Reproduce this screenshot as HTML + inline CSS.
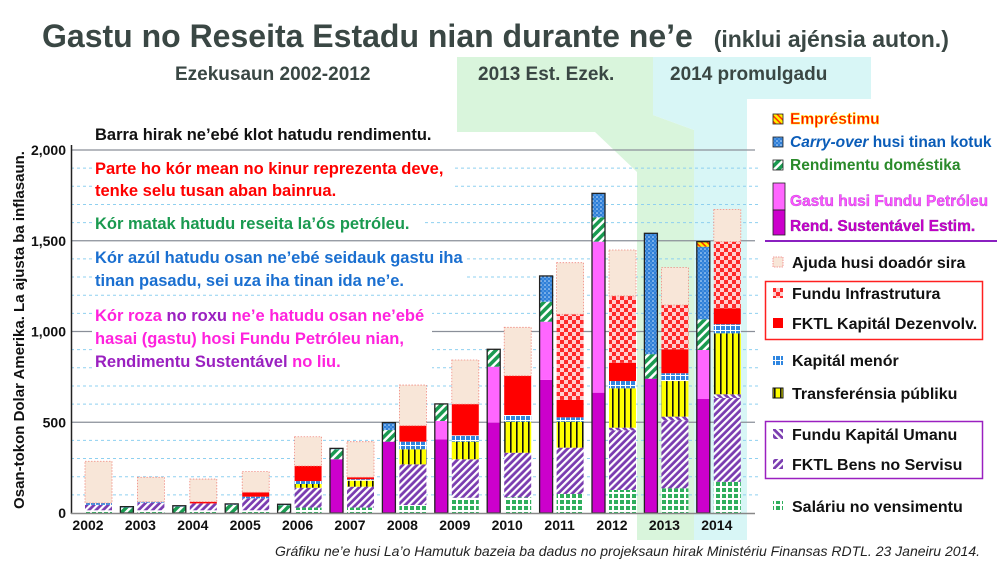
<!DOCTYPE html>
<html><head><meta charset="utf-8"><style>
body{margin:0;background:#fff;}
svg{display:block;font-family:"Liberation Sans",sans-serif;}
</style></head><body>
<svg id="chart" width="1000" height="568" viewBox="0 0 1000 568">
<defs>
<pattern id="pDom" width="6" height="6" patternUnits="userSpaceOnUse" patternTransform="rotate(45)"><rect width="6" height="6" fill="#1a9a50"/><rect width="2.5" height="6" fill="#fff"/></pattern>
<pattern id="pCarry" width="4" height="4" patternUnits="userSpaceOnUse"><rect width="4" height="4" fill="#2f7fd8"/><circle cx="1" cy="1" r="0.8" fill="#cfe6ff"/><circle cx="3" cy="3" r="0.6" fill="#9cc8f5"/></pattern>
<pattern id="pLoan" width="4" height="4" patternUnits="userSpaceOnUse" patternTransform="rotate(-45)"><rect width="4" height="4" fill="#ffee00"/><rect width="1.5" height="4" fill="#ff3300"/></pattern>
<pattern id="pYel" width="6" height="6" patternUnits="userSpaceOnUse"><rect width="6" height="6" fill="#ffff00"/><rect width="1.6" height="6" fill="#111"/></pattern>
<pattern id="pKapm" width="5" height="5" patternUnits="userSpaceOnUse"><rect width="5" height="5" fill="#2f86e0"/><rect width="5" height="1" fill="#fff"/><rect width="1" height="5" fill="#fff"/></pattern>
<pattern id="pChk" width="8" height="8" patternUnits="userSpaceOnUse"><rect width="8" height="8" fill="#ff2a2a"/><rect width="4" height="4" fill="#ffd0d0"/><rect x="4" y="4" width="4" height="4" fill="#ffd0d0"/></pattern>
<pattern id="pBens" width="5" height="5" patternUnits="userSpaceOnUse" patternTransform="rotate(45)"><rect width="5" height="5" fill="#7a3cb0"/><rect width="2.2" height="5" fill="#fff"/></pattern>
<pattern id="pUman" width="5" height="5" patternUnits="userSpaceOnUse" patternTransform="rotate(-45)"><rect width="5" height="5" fill="#7a3cb0"/><rect width="2.2" height="5" fill="#fff"/></pattern>
<pattern id="pSal" width="6" height="6" patternUnits="userSpaceOnUse"><rect width="6" height="6" fill="#2fae5c"/><rect width="6" height="2" fill="#fff"/><rect width="2" height="6" fill="#fff"/></pattern>
</defs>

<!-- shaded forecast regions -->
<rect x="457" y="57" width="196" height="75" fill="#d9f5dc"/>
<polygon fill="#d9f5dc" points="595,132 653,132 653,115 694,130 694,172 637,172"/>
<rect x="637" y="132" width="57" height="408" fill="#d9f5dc"/>
<rect x="653" y="57" width="218" height="42" fill="#d8f6f6"/>
<rect x="694" y="99" width="53" height="441" fill="#d8f6f6"/>
<polygon fill="#d8f6f6" points="653,99 694,99 694,130 653,115"/>

<text x="42" y="47" font-size="32" font-weight="bold" fill="#3a4744">Gastu no Reseita Estadu nian durante ne’e <tspan font-size="23" dx="12">(inklui ajénsia auton.)</tspan></text>
<text x="175" y="80" font-size="19" font-weight="bold" fill="#3a4744">Ezekusaun 2002-2012</text>
<text x="478" y="80" font-size="19" font-weight="bold" fill="#3a4744">2013 Est. Ezek.</text>
<text x="670" y="80" font-size="19" font-weight="bold" fill="#3a4744">2014 promulgadu</text>

<g id="grid"></g>
<g id="notes" font-size="16.5" font-weight="bold">
<text x="95" y="140" fill="#111">Barra hirak ne’ebé klot hatudu rendimentu.</text>
<rect x="92" y="157" width="360" height="40" fill="#fff"/>
<text x="95" y="174" fill="#ff0000">Parte ho kór mean no kinur reprezenta deve,</text>
<text x="95" y="196" fill="#ff0000">tenke selu tusan aban bainrua.</text>
<rect x="92" y="214" width="330" height="18" fill="#fff"/>
<text x="95" y="229" fill="#1a9a50">Kór matak hatudu reseita la’ós petróleu.</text>
<rect x="92" y="247" width="375" height="42" fill="#fff"/>
<text x="95" y="263" fill="#1a6fd0">Kór azúl hatudu osan ne’ebé seidauk gastu iha</text>
<text x="95" y="286" fill="#1a6fd0">tinan pasadu, sei uza iha tinan ida ne’e.</text>
<rect x="92" y="305" width="340" height="64" fill="#fff"/>
<text x="95" y="321" fill="#ff22dd">Kór roza <tspan fill="#9a20c0">no roxu</tspan> ne’e hatudu osan ne’ebé</text>
<text x="95" y="344" fill="#ff22dd">hasai (gastu) hosi Fundu Petróleu nian,</text>
<text x="95" y="367" fill="#9a20c0">Rendimentu Sustentável <tspan fill="#ff22dd">no liu.</tspan></text>
</g>
<g id="bars"></g>
<line x1="71.5" y1="145" x2="71.5" y2="514" stroke="#222" stroke-width="1.5"/>
<line x1="71" y1="513.5" x2="755" y2="513.5" stroke="#888" stroke-width="1.5"/>
<g id="ylabels" font-size="14" font-weight="bold" fill="#111" text-anchor="end"></g>
<g id="xlabels" font-size="14" font-weight="bold" fill="#111" text-anchor="middle"></g>
<text transform="translate(24,330) rotate(-90)" text-anchor="middle" font-size="15" font-weight="bold" fill="#111">Osan-tokon Dolar Amerika.   La ajusta ba inflasaun.</text>

<!-- legends -->
<g id="legend" font-size="15.5" font-weight="bold">
<rect x="773" y="114" width="10" height="10" fill="url(#pLoan)" stroke="#222" stroke-width="0.8"/>
<text x="790" y="124" fill="#ff1100" stroke="#ffee00" stroke-width="0.4">Empréstimu</text>
<rect x="773" y="137" width="10" height="10" fill="url(#pCarry)" stroke="#222" stroke-width="0.8"/>
<text x="790" y="147" fill="#0a5cb8"><tspan font-style="italic">Carry-over</tspan> husi tinan kotuk</text>
<rect x="773" y="160" width="10" height="10" fill="url(#pDom)" stroke="#222" stroke-width="0.8"/>
<text x="790" y="170" fill="#2a8a2a">Rendimentu doméstika</text>
<rect x="773" y="183" width="12" height="27" fill="#ff66ff" stroke="#222" stroke-width="0.8"/>
<rect x="773" y="210" width="12" height="25" fill="#cc00cc" stroke="#222" stroke-width="0.8"/>
<text x="790" y="206" fill="#ff55ff" stroke="#9a20c0" stroke-width="0.3">Gastu husi Fundu Petróleu</text>
<text x="790" y="231" fill="#cc00cc" stroke="#6a0a8a" stroke-width="0.3">Rend. Sustentável Estim.</text>
<line x1="765" y1="241" x2="997" y2="241" stroke="#8a20c0" stroke-width="2"/>
</g>
<g font-size="16" font-weight="bold">
<rect x="773" y="257" width="10" height="10" fill="#f8e6d8" stroke="#f08080" stroke-width="0.8" stroke-dasharray="1.5 1"/>
<text x="792" y="268" fill="#111">Ajuda husi doadór sira</text>
<rect x="765.5" y="281.5" width="217" height="58" fill="none" stroke="#ff2020" stroke-width="1.5"/>
<rect x="773" y="288" width="10" height="10" fill="url(#pChk)"/>
<text x="792" y="299" fill="#111">Fundu Infrastrutura</text>
<rect x="773" y="318" width="10" height="10" fill="#ff0000"/>
<text x="792" y="329" fill="#111">FKTL Kapitál Dezenvolv.</text>
<rect x="773" y="355" width="10" height="10" fill="url(#pKapm)"/>
<text x="792" y="366" fill="#111">Kapitál menór</text>
<rect x="773" y="388" width="10" height="10" fill="url(#pYel)" stroke="#111" stroke-width="1"/>
<text x="792" y="399" fill="#111">Transferénsia públiku</text>
<rect x="765.5" y="421.5" width="217" height="57" fill="none" stroke="#9a20c0" stroke-width="1.5"/>
<rect x="773" y="429" width="10" height="10" fill="url(#pUman)"/>
<text x="792" y="440" fill="#111">Fundu Kapitál Umanu</text>
<rect x="773" y="459" width="10" height="10" fill="url(#pBens)"/>
<text x="792" y="470" fill="#111">FKTL Bens no Servisu</text>
<rect x="773" y="501" width="10" height="10" fill="url(#pSal)"/>
<text x="792" y="512" fill="#111">Saláriu no vensimentu</text>
</g>
<text x="980" y="556" text-anchor="end" font-size="14" font-style="italic" fill="#222">Gráfiku ne’e husi La’o Hamutuk bazeia ba dadus no projeksaun hirak Ministériu Finansas RDTL. 23 Janeiru 2014.</text>
</svg>
<script>
const years=["2002","2003","2004","2005","2006","2007","2008","2009","2010","2011","2012","2013","2014"];
// revenue series
const sustainable=[0,0,0,0,0,296,393,406,498,733,663,740,628];
const petroFund=[0,0,0,0,0,0,0,101,308,321,832,0,270];
const domestic=[0,30,35,45,43,55,64,94,96,110,134,135,169];
const carryOver=[0,5,5,5,5,5,41,0,0,142,132,666,400];
const loans=[0,0,0,0,0,0,0,0,0,0,0,0,28];
// expenditure series
const salaries=[15,15,15,15,30,30,44,84,86,105,127,136,172];
const goodsServices=[30,42,38,66,109,115,224,212,246,255,328,375,462];
const humanCapital=[0,0,0,0,0,0,0,0,0,0,15,20,20];
const transfers=[0,0,0,0,21,33,83,97,171,143,217,196,336];
const minorCapital=[10,5,0,9,16,8,42,35,37,24,40,43,50];
const fktlCapital=[0,0,9,24,83,11,88,172,216,96,101,132,88];
const infraFund=[0,0,0,0,0,0,0,0,0,472,368,244,367];
const donorAid=[230,135,125,114,161,196,224,243,267,284,253,206,178];
const yTicks=[0,500,1000,1500,2000];
const yTickLabels=["0","500","1,000","1,500","2,000"];

const NS="http://www.w3.org/2000/svg";
const yS=v=>513-v*0.1815;
const xC=i=>88+52.4*i;
function mk(tag,attrs,parent){const e=document.createElementNS(NS,tag);for(const k in attrs)e.setAttribute(k,attrs[k]);parent.appendChild(e);return e;}
const grid=document.getElementById('grid');
for(let v=100;v<=2000;v+=100){
  if(v%500===0){const l=mk('line',{x1:71,x2:755,y1:yS(v),y2:yS(v),stroke:'#8a8f99','stroke-width':1.3},grid);
    
    }
  else{const l=mk('line',{x1:71,x2:760,y1:yS(v),y2:yS(v),stroke:'#8fd0f0','stroke-width':1,'stroke-dasharray':'3 3'},grid);
    
    }
}
const yl=document.getElementById('ylabels');
yTicks.forEach((v,i)=>{const t=mk('text',{x:66,y:yS(v)+5},yl);t.textContent=yTickLabels[i];
  
  });
const xl=document.getElementById('xlabels');
years.forEach((y,i)=>{const t=mk('text',{x:xC(i),y:530},xl);t.textContent=y;
  
  });
const bars=document.getElementById('bars');
const revSeries=[[sustainable,'#cc00cc','sustainable'],[petroFund,'#ff66ff','petroleum-fund'],[domestic,'url(#pDom)','domestic'],[carryOver,'url(#pCarry)','carry-over'],[loans,'url(#pLoan)','loan']];
const expSeries=[[salaries,'url(#pSal)','salaries'],[goodsServices,'url(#pBens)','goods-services'],[humanCapital,'url(#pUman)','human-capital'],[transfers,'url(#pYel)','transfers'],[minorCapital,'url(#pKapm)','minor-capital'],[fktlCapital,'#ff0000','fktl-capital'],[infraFund,'url(#pChk)','infrastructure'],[donorAid,'#f8e6d8','donor-aid']];
years.forEach((y,i)=>{
  const cx=xC(i);
  let acc=0;
  revSeries.forEach(([arr,fill,nm])=>{const v=arr[i];if(!v)return;
    const r=mk('rect',{x:cx-20,y:yS(acc+v),width:13,height:yS(acc)-yS(acc+v),fill:fill},bars);
    
    
    acc+=v;});
  if(acc>0){const o=mk('rect',{x:cx-20,y:yS(acc),width:13,height:yS(0)-yS(acc),fill:'none',stroke:'#222','stroke-width':1.3},bars);
    
    }
  acc=0;
  expSeries.forEach(([arr,fill,nm])=>{const v=arr[i];if(!v)return;
    const a={x:cx-3,y:yS(acc+v),width:27,height:yS(acc)-yS(acc+v),fill:fill};
    if(nm==='donor-aid'){a.stroke='#f08a80';a['stroke-width']=0.8;a['stroke-dasharray']='1.5 1.5';}
    const r=mk('rect',a,bars);
    
    
    acc+=v;});
});
</script>
</body></html>
